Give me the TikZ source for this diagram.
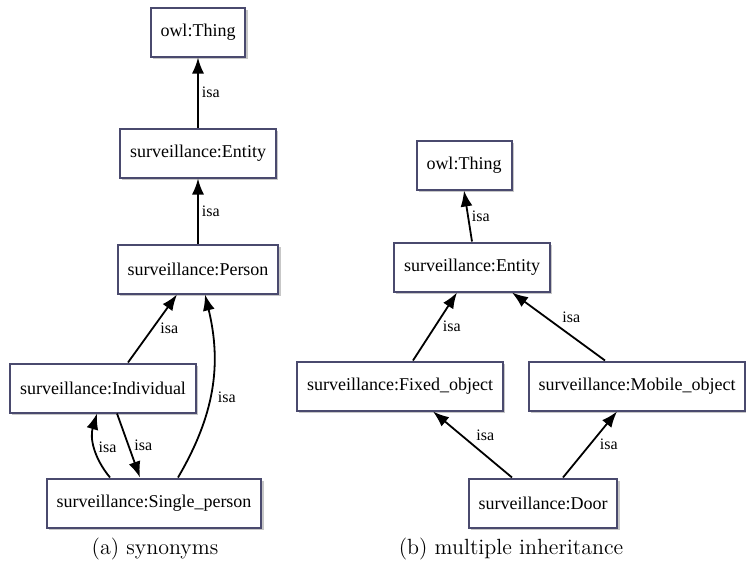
\documentclass[tikz,border=0pt]{standalone}
\usepackage{fontspec}
\newfontfamily\boxfont{Liberation Serif}
\usetikzlibrary{arrows.meta,shadows,calc}
\definecolor{slate}{HTML}{4A4A6E}
\tikzset{
  concept/.style={draw=slate,line width=1pt,fill=white,inner xsep=5pt,minimum height=24.5pt,
    font=\boxfont\fontsize{9}{11}\selectfont,
    drop shadow={shadow xshift=1.2pt,shadow yshift=-1.2pt,fill=black!22,opacity=1}},
  isa/.style={-{Latex[length=8pt,width=6pt]},line width=0.9pt},
  lbl/.style={font=\boxfont\fontsize{8}{10}\selectfont,inner sep=1.5pt},
}
\begin{document}
\begin{tikzpicture}[x=0.5pt,y=-0.5pt]
\useasboundingbox (0,0) rectangle (746,568);
% (a) synonyms
\node[concept] (lthing) at (198,32) {owl:Thing};
\node[concept] (lentity) at (198,153) {surveillance:Entity};
\node[concept] (lperson) at (198,269) {surveillance:Person};
\node[concept] (lindiv) at (103,388) {surveillance:Individual};
\node[concept] (lsingle) at (154,503) {surveillance:Single\_person};
\draw[isa] (lentity) -- node[lbl,right]{isa} (lthing);
\draw[isa] (lperson) -- node[lbl,right]{isa} (lentity);
\draw[isa] ($(lindiv.north)+(25,0)$) -- node[lbl,right=2pt]{isa} ($(lperson.south)+(-21,0)$);
\draw[isa] ($(lsingle.north)+(24,0)$) to[bend right=22] node[lbl,pos=0.45,right=2pt]{isa} ($(lperson.south)+(7,0)$);
\draw[isa] ($(lsingle.north)+(-44,0)$) to[bend left=28] node[lbl,right]{isa} ($(lindiv.south)+(-6,0)$);
\draw[isa] ($(lindiv.south)+(14,0)$) -- node[lbl,right=1pt]{isa} ($(lsingle.north)+(-14,0)$);
% (b) multiple inheritance
\node[concept] (rthing) at (464,165) {owl:Thing};
\node[concept] (rentity) at (472,267) {surveillance:Entity};
\node[concept] (rfixed) at (400,386) {surveillance:Fixed\_object};
\node[concept] (rmobile) at (637,386) {surveillance:Mobile\_object};
\node[concept] (rdoor) at (543,503) {surveillance:Door};
\draw[isa] (rentity.north) -- node[lbl,right]{isa} (rthing.south);
\draw[isa] ($(rfixed.north)+(13,0)$) -- node[lbl,right=2pt]{isa} ($(rentity.south)+(-15,0)$);
\draw[isa] ($(rmobile.north)+(-32,0)$) -- node[lbl,above right]{isa} ($(rentity.south)+(40,0)$);
\draw[isa] ($(rdoor.north)+(-31,0)$) -- node[lbl,above right]{isa} ($(rfixed.south)+(33,0)$);
\draw[isa] ($(rdoor.north)+(20,0)$) -- node[lbl,right=3pt]{isa} ($(rmobile.south)+(-20,0)$);
% captions
\node[font=\fontsize{11}{13}\selectfont] (capa) at (155,549) {(a) synonyms};
\node[font=\fontsize{11}{13}\selectfont] (capb) at (511,549) {(b) multiple inheritance};
\end{tikzpicture}
\end{document}
